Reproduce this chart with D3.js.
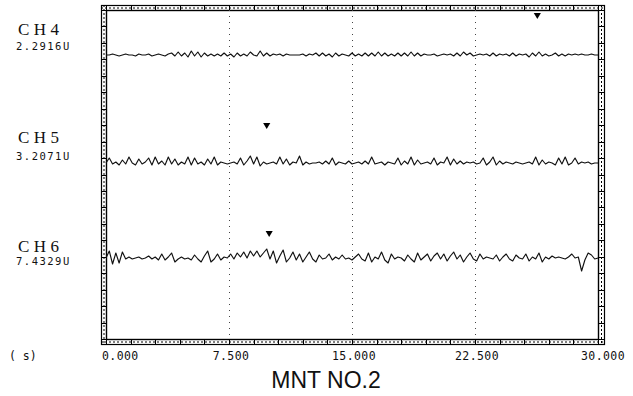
<!DOCTYPE html>
<html>
<head>
<meta charset="utf-8">
<script src="https://cdn.jsdelivr.net/npm/d3@7/dist/d3.min.js"></script>
<style>
  html, body { margin: 0; padding: 0; background: #fff; }
  svg { display: block; }
</style>
</head>
<body>
<svg id="chart" width="633" height="396"></svg>
<script>
// Recorder sweep: 30 s window, one sample every 0.2 s
const timeStart = 0, timeEnd = 30, sampleStep = 0.2;
const xTickValues = [0, 7.5, 15, 22.5, 30];
const xTickLabels = ["0.000", "7.500", "15.000", "22.500", "30.000"];
const timeUnitLabel = "( s)";
const chartTitle = "MNT NO.2";

const channelNames = ["CH4", "CH5", "CH6"];
const channelReadings = ["2.2916U", "3.2071U", "7.4329U"];
// trace baselines in display counts (full height = 329 counts)
const channelBaselines = [284, 176, 81];
// cursor marks: time and level in counts
const markerTimes = [26.3, 9.8, 9.95];
const markerLevels = [324, 214, 106];

// ripple around each baseline, counts
const ch4Samples = [
  0,0,1,0,-1,0,1,0,0,-1,1,0,0,1,-1,0,1,0,-1,1,
  2,-1,3,-1,2,-2,4,-1,3,-2,2,-1,1,-1,
  1,-1,2,-1,1,-2,2,-1,1,-1,3,0,-1,4,
  -1,2,-1,1,0,1,-1,1,0,0,0,0,
  1,-1,1,0,2,-1,2,-1,1,-2,2,-1,1,0,-1,
  2,-1,1,-1,2,-1,2,-1,3,-1,2,-1,1,-1,2,
  -1,2,-1,3,-1,2,-1,1,0,0,1,-1,0,1,0,
  1,-1,2,-1,3,0,2,-1,0,1,0,1,-1,2,-1,1,
  0,1,-1,2,-1,1,0,1,-2,2,-1,3,-1,1,-1,
  0,2,-1,1,-1,1,0,1,0,1,0,0,1,0,0
];
const ch5Samples = [
  0,5,-1,1,-2,3,-1,6,0,-2,4,-1,1,5,-2,
  6,-1,2,-2,6,-1,4,-2,1,-1,6,-2,5,-1,1,
  -2,4,-1,6,-2,1,0,-1,0,1,-1,5,-2,2,7,
  -1,6,-3,1,-1,0,1,-1,6,-1,4,-2,1,0,7,
  -2,1,-1,0,0,1,-1,2,-1,5,-2,1,0,-1,2,
  -1,0,1,-1,2,-1,6,-1,0,1,-2,1,0,-1,5,
  -2,2,-1,6,-2,3,-1,0,1,-1,5,-2,1,0,6,
  -2,4,-1,2,-1,1,0,1,-1,0,5,-2,1,6,-2,
  2,-1,1,0,-1,1,0,-1,0,1,-1,6,-2,3,-1,
  1,0,-2,5,-1,6,-2,0,5,-1,1,0,1,-1,0,0
];
const ch6Samples = [
  0,7,-6,5,-5,6,-1,1,-1,0,1,-1,0,2,-1,
  1,-2,4,-2,1,5,-4,-1,1,-1,0,-2,3,-1,-4,
  2,7,-4,-1,4,-2,1,0,4,-1,5,1,6,0,7,
  2,7,1,5,9,-1,7,-5,2,8,-4,0,6,-2,4,
  -4,1,6,-1,-4,3,-1,0,4,-2,1,-1,3,-1,0,
  -2,1,4,-1,-3,5,-4,1,-1,6,-2,-5,4,-1,1,
  0,-3,3,-1,-4,5,-2,1,4,-3,2,5,-1,4,-3,
  2,6,-1,3,-4,1,5,-1,-3,4,-1,1,0,-1,3,
  -3,1,4,-1,-3,3,0,-1,4,-3,1,-1,5,-4,1,
  -1,2,0,1,0,-1,1,4,0,1,-13,-2,5,3,-1,0
];
const channelSamples = [ch4Samples, ch5Samples, ch6Samples];

const svg = d3.select("#chart");
const outer = { left: 101, top: 5, right: 604, bottom: 344 };
const inner = { left: 106, top: 10, right: 598, bottom: 339 };

const x = d3.scaleLinear().domain([timeStart, timeEnd]).range([inner.left, inner.right]);
const y = d3.scaleLinear().domain([0, 329]).range([inner.bottom, inner.top]);

// frame: double border with ruler strip
svg.append("rect")
  .attr("x", outer.left + 0.5).attr("y", outer.top + 0.5)
  .attr("width", outer.right - outer.left).attr("height", outer.bottom - outer.top)
  .attr("fill", "none").attr("stroke", "#000").attr("stroke-width", 1.2);
svg.append("rect")
  .attr("x", inner.left + 0.5).attr("y", inner.top + 0.5)
  .attr("width", inner.right - inner.left).attr("height", inner.bottom - inner.top)
  .attr("fill", "none").attr("stroke", "#000").attr("stroke-width", 1.4);

const ruler = svg.append("g").attr("stroke", "#000").attr("fill", "none");
const midTop = (outer.top + inner.top) / 2 + 0.5;
const midBot = (outer.bottom + inner.bottom) / 2 + 0.5;
const midLeft = (outer.left + inner.left) / 2 + 0.5;
const midRight = (outer.right + inner.right) / 2 + 0.5;
[[outer.left, midTop, outer.right, midTop], [outer.left, midBot, outer.right, midBot],
 [midLeft, outer.top, midLeft, outer.bottom], [midRight, outer.top, midRight, outer.bottom]]
  .forEach(([x1, y1, x2, y2]) => ruler.append("line")
    .attr("x1", x1).attr("y1", y1).attr("x2", x2).attr("y2", y2)
    .attr("stroke-width", 1).attr("stroke-dasharray", "2,2"));

const xRulerTicks = d3.range(timeStart, timeEnd + 0.001, 1.5);
xRulerTicks.forEach(t => {
  const px = Math.round(x(t)) + 0.5;
  ruler.append("line").attr("x1", px).attr("x2", px).attr("y1", outer.top).attr("y2", inner.top).attr("stroke-width", 1);
  ruler.append("line").attr("x1", px).attr("x2", px).attr("y1", inner.bottom).attr("y2", outer.bottom).attr("stroke-width", 1);
});
const yRulerTicks = d3.range(0, 329.01, 329 / 20);
yRulerTicks.forEach(v => {
  const py = Math.round(y(v)) + 0.5;
  ruler.append("line").attr("x1", outer.left).attr("x2", inner.left).attr("y1", py).attr("y2", py).attr("stroke-width", 1);
  ruler.append("line").attr("x1", inner.right).attr("x2", outer.right).attr("y1", py).attr("y2", py).attr("stroke-width", 1);
});

// dotted time gridlines
svg.append("g")
  .selectAll("line")
  .data(xTickValues.filter(t => t > timeStart && t < timeEnd))
  .join("line")
  .attr("x1", d => Math.round(x(d)) + 0.5).attr("x2", d => Math.round(x(d)) + 0.5)
  .attr("y1", inner.top).attr("y2", inner.bottom)
  .attr("stroke", "#444").attr("stroke-width", 1).attr("stroke-dasharray", "1,5");

// traces
const line = d3.line()
  .x((d, i) => x(timeStart + i * sampleStep))
  .y(d => y(d));
channelSamples.forEach((samples, c) => {
  svg.append("path")
    .datum(samples.map(v => channelBaselines[c] + v))
    .attr("d", line)
    .attr("fill", "none")
    .attr("stroke", "#111")
    .attr("stroke-width", 1.15)
    .attr("stroke-linejoin", "round");
});

// cursor marks
svg.append("g")
  .selectAll("path")
  .data(markerTimes.map((t, i) => [t, markerLevels[i]]))
  .join("path")
  .attr("d", d3.symbol(d3.symbolTriangle, 22))
  .attr("transform", d => `translate(${x(d[0])},${y(d[1])}) rotate(180)`)
  .attr("fill", "#000");

// channel labels
const labelBaselines = [35, 143, 252];
const readingBaselines = [50, 160, 265];
channelNames.forEach((name, i) => {
  svg.append("text")
    .attr("x", 18).attr("y", labelBaselines[i])
    .attr("font-family", "Liberation Serif, serif")
    .attr("font-size", 17).attr("letter-spacing", 4.5)
    .attr("fill", "#111")
    .text(name);
  svg.append("text")
    .attr("x", 16).attr("y", readingBaselines[i])
    .attr("font-family", "DejaVu Sans Mono, monospace")
    .attr("font-size", 10.5).attr("letter-spacing", 1.5)
    .attr("fill", "#111")
    .text(channelReadings[i]);
});

// time axis labels
const tickY = 360;
const tickGroup = svg.append("g")
  .attr("font-family", "DejaVu Sans Mono, monospace")
  .attr("font-size", 11.5).attr("letter-spacing", 0.4).attr("fill", "#111");
xTickValues.forEach((t, i) => {
  const last = i === xTickValues.length - 1, first = i === 0;
  tickGroup.append("text")
    .attr("x", first ? outer.left + 1 : last ? 625 : x(t) + 2)
    .attr("y", tickY)
    .attr("text-anchor", first ? "start" : last ? "end" : "middle")
    .text(xTickLabels[i]);
});
svg.append("text")
  .attr("x", 9).attr("y", tickY)
  .attr("font-family", "DejaVu Sans Mono, monospace")
  .attr("font-size", 11.5).attr("fill", "#111")
  .text(timeUnitLabel);

svg.append("text")
  .attr("x", 326).attr("y", 388)
  .attr("text-anchor", "middle")
  .attr("font-family", "Liberation Sans, Arial, sans-serif")
  .attr("font-size", 23).attr("fill", "#111")
  .text(chartTitle);
</script>
</body>
</html>
